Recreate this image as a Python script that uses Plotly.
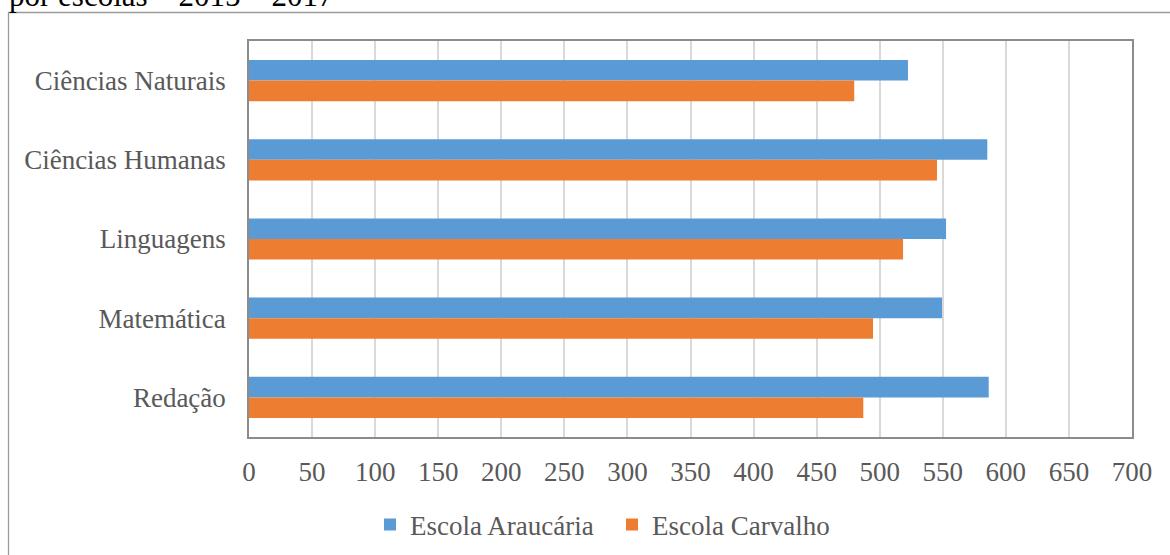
import plotly.graph_objects as go

# Areas of knowledge (top to bottom)
areas = ["Ciências Naturais", "Ciências Humanas", "Linguagens", "Matemática", "Redação"]

# Average scores per school
araucaria = [522.4, 585.3, 552.6, 549.4, 586.4]
carvalho = [479.8, 545.4, 518.5, 494.7, 487.0]

x_ticks = list(range(0, 701, 50))

FONT = "Liberation Serif, Times New Roman, serif"
TEXT_GREY = "#595959"

W, H = 1170, 555
L, R, T, B = 249, 38, 41, 118
PW, PH = W - L - R, H - T - B


def px_to_paper_x(px):
    return (px - L) / PW


def px_to_paper_y(py):
    return (H - B - py) / PH


fig = go.Figure()
fig.add_trace(go.Bar(
    y=areas, x=araucaria, orientation="h", name="Escola Araucária",
    marker=dict(color="#5B9BD5", line=dict(width=0)),
))
fig.add_trace(go.Bar(
    y=areas, x=carvalho, orientation="h", name="Escola Carvalho",
    marker=dict(color="#ED7D31", line=dict(width=0)),
))

fig.update_layout(
    width=W, height=H,
    margin=dict(l=L, r=R, t=T, b=B, pad=0, autoexpand=False),
    paper_bgcolor="white", plot_bgcolor="white",
    barmode="group", bargap=0.48, bargroupgap=0,
    font=dict(family=FONT, size=27, color=TEXT_GREY),
    showlegend=True,
    legend=dict(
        orientation="h", x=px_to_paper_x(370), xanchor="left",
        y=px_to_paper_y(525), yanchor="middle",
        entrywidth=197, entrywidthmode="pixels",
        font=dict(family=FONT, size=27, color=TEXT_GREY),
        bgcolor="rgba(0,0,0,0)", traceorder="normal",
    ),
    xaxis=dict(
        range=[0, 700], tickvals=x_ticks, ticktext=[str(v) for v in x_ticks],
        showgrid=True, gridcolor="#d9d9d9", gridwidth=1.5,
        zeroline=False, showline=True, linecolor="#8c8c8c", linewidth=1.5,
        mirror=True, ticks="", ticklabelstandoff=10, automargin=False,
        tickfont=dict(family=FONT, size=27, color=TEXT_GREY),
        fixedrange=True,
    ),
    yaxis=dict(
        autorange="reversed", showgrid=False, zeroline=False,
        showline=True, linecolor="#8c8c8c", linewidth=1.5, mirror=True,
        ticks="", ticklabelstandoff=16, automargin=False,
        tickfont=dict(family=FONT, size=27, color=TEXT_GREY),
        fixedrange=True,
    ),
)

# Outer chart frame (continues past the right and bottom edges)
fig.add_shape(
    type="rect", xref="paper", yref="paper",
    x0=px_to_paper_x(8.5), x1=px_to_paper_x(1300),
    y0=px_to_paper_y(700), y1=px_to_paper_y(12.5),
    line=dict(color="#9a9a9a", width=1.3), fillcolor="rgba(0,0,0,0)",
    layer="below",
)

# Caption line above the chart frame
fig.add_annotation(
    text="por escolas – 2015 – 2017", xref="paper", yref="paper",
    x=px_to_paper_x(7), y=px_to_paper_y(-4.5), xanchor="left", yanchor="middle",
    showarrow=False, font=dict(family=FONT, size=31, color="black"),
)

fig.write_html("out.html")
